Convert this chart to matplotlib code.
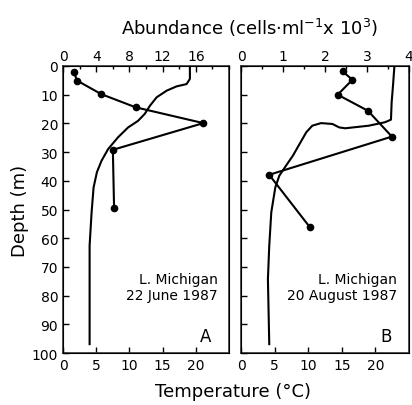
import numpy as np
import matplotlib.pyplot as plt

# abundance profiles (cells ml-1 x 10^3) vs depth (m)
abund_depth_a = [2.2, 5.1, 9.8, 14.4, 19.9, 29.2, 49.6]
abund_a = [1.3, 1.7, 4.6, 8.75, 16.9, 6.0, 6.15]
abund_depth_b = [1.9, 4.8, 10.0, 15.6, 24.6, 37.9, 56.2]
abund_b = [2.42, 2.65, 2.30, 3.02, 3.59, 0.67, 1.64]

# temperature profiles (deg C) vs depth (m)
temp_depth_a = [0, 4.5, 6.3, 7.1, 8.6, 10.9, 13.8, 16.7, 19.1, 21.4, 24.8, 28.9,
                33, 37, 42.3, 51, 62.6, 74.2, 96.9]
temp_a = [19.1, 19.1, 18.6, 17.1, 15.6, 14.1, 13.1, 12.3, 11.3, 9.8, 8.3, 6.8,
          5.8, 5.1, 4.6, 4.3, 4.0, 4.0, 4.0]
temp_depth_b = [0.5, 6.9, 12.7, 18.7, 19.6, 20.8, 21.7, 21.4, 20.2, 19.9, 20.8,
                23.1, 27.2, 31.3, 34.7, 38.2, 42.3, 51, 62.6, 74.2, 96.9]
temp_b = [22.8, 22.6, 22.4, 22.3, 21.4, 19.0, 15.5, 14.6, 13.6, 11.9, 10.6,
          9.7, 8.7, 7.7, 6.7, 5.7, 5.1, 4.5, 4.2, 4.0, 4.2]

fs = 10
fig = plt.figure(figsize=(4.12, 4.06), dpi=100)
ax1 = fig.add_axes([0.153, 0.128, 0.403, 0.707])
ax2 = fig.add_axes([0.585, 0.128, 0.408, 0.707])

panels = [
    (ax1, temp_a, temp_depth_a, abund_a, abund_depth_a, 20, [0, 4, 8, 12, 16], 2,
     "L. Michigan\n22 June 1987", "A"),
    (ax2, temp_b, temp_depth_b, abund_b, abund_depth_b, 4, [0, 1, 2, 3, 4], 0.5,
     "L. Michigan\n20 August 1987", "B"),
]

for ax, t, td, ab, ad, amax, aticks, aminor, label, letter in panels:
    ax.plot(t, td, color="black", lw=1.5, solid_joinstyle="round")
    ax.set_xlim(0, 25)
    ax.set_ylim(100, 0)
    ax.set_xticks([0, 5, 10, 15, 20])
    ax.set_yticks(np.arange(0, 101, 10))
    ax.tick_params(direction="in", length=4, width=1, labelsize=fs)
    for s in ax.spines.values():
        s.set_linewidth(1.2)
        s.set_color("#333333")
    ax.text(0.93, 0.23, label, transform=ax.transAxes, ha="right", va="center",
            fontsize=fs, linespacing=1.2)
    ax.text(0.86, 0.06, letter, transform=ax.transAxes, ha="center", va="center",
            fontsize=12)

    top = ax.twiny()
    top.plot(ab, ad, color="black", lw=1.5, marker="o", ms=4.5)
    top.set_xlim(0, amax)
    top.set_xticks(aticks)
    top.set_xticks(np.arange(0, amax + 0.01, aminor), minor=True)
    top.tick_params(direction="in", length=4, width=1, labelsize=fs, pad=2)
    top.tick_params(which="minor", direction="in", length=2.5, width=1)
    top.set_ylim(100, 0)

ax2.set_yticklabels([])
ax1.set_ylabel("Depth (m)", fontsize=13, labelpad=2)
fig.text(0.565, 0.035, "Temperature (°C)", ha="center", va="center", fontsize=13)
fig.text(0.607, 0.93, r"Abundance (cells$\cdot$ml$^{-1}$x 10$^3$)", ha="center",
         va="center", fontsize=13)

fig.savefig("out.png", dpi=100)
